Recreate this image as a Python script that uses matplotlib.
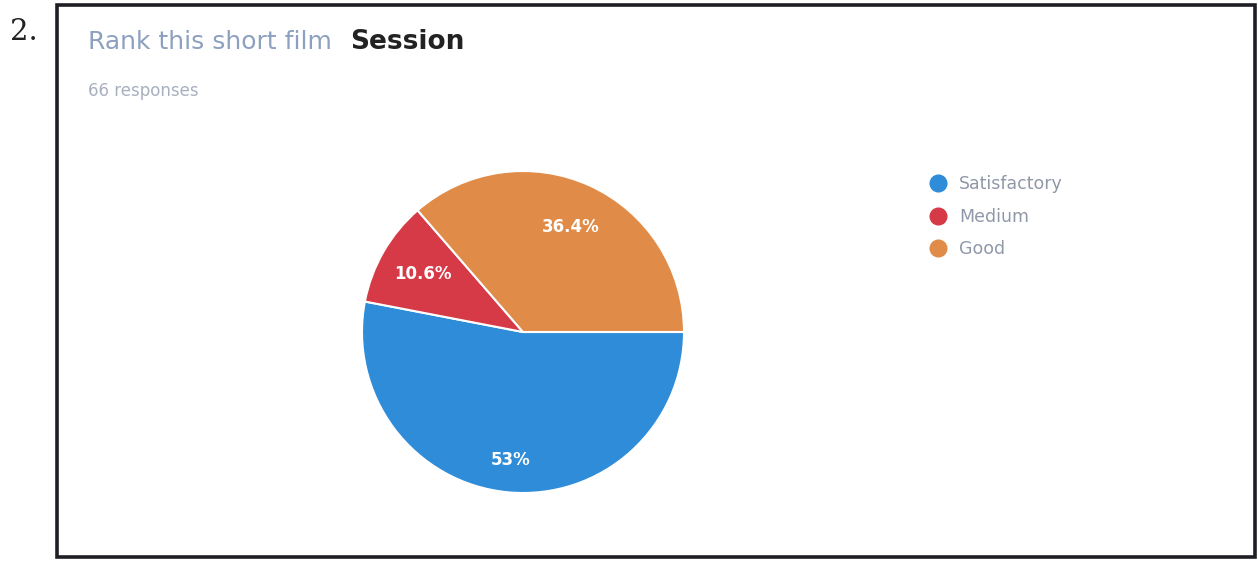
import matplotlib
matplotlib.use("Agg")
import matplotlib.pyplot as plt
from matplotlib.patches import Rectangle
from matplotlib.lines import Line2D

# survey answers (66 responses)
labels = ["Satisfactory", "Medium", "Good"]
counts = [35, 7, 24]
colors = ["#2f8cd8", "#d63a46", "#e08c48"]
title_plain = "Rank this short film "
title_bold = "Session"
subtitle = "66 responses"

W, H = 1258, 563
fig = plt.figure(figsize=(W / 100, H / 100), dpi=100)
fig.patch.set_facecolor("white")

# frame around the form card
fig.patches.append(Rectangle((57 / W, 1 - 557 / H), (1255 - 57) / W, (557 - 5) / H,
                             transform=fig.transFigure, fill=False, edgecolor="#1e1e24",
                             linewidth=2.6))
fig.text(10 / W, 1 - 40 / H, "2.", fontsize=21, fontfamily="DejaVu Serif",
         color="#222222", va="baseline")

fig.text(88 / W, 1 - 49 / H, title_plain, fontsize=18, color="#8da0bf", va="baseline")
fig.text(350 / W, 1 - 49 / H, title_bold, fontsize=19, fontweight="bold",
         color="#222222", va="baseline")
fig.text(88 / W, 1 - 96 / H, subtitle, fontsize=12, color="#a8b0c0", va="baseline")

# pie
cx, cy, r = 523, 332, 161
ax = fig.add_axes([(cx - r) / W, 1 - (cy + r) / H, 2 * r / W, 2 * r / H])
wedges, texts, autotexts = ax.pie(counts, colors=colors, startangle=0, counterclock=False,
                                  autopct=lambda p: f"{p:.1f}%".replace(".0%", "%"),
                                  pctdistance=0.72,
                                  wedgeprops=dict(edgecolor="white", linewidth=1.5),
                                  textprops=dict(color="white", fontsize=12,
                                                 fontweight="bold"))
autotexts[0].set_position((autotexts[0].get_position()[0] * 0.8 / 0.72,
                           autotexts[0].get_position()[1] * 0.8 / 0.72))
ax.set_xlim(-1.0, 1.0)
ax.set_ylim(-1.0, 1.0)
ax.set_aspect("equal")
ax.axis("off")

handles = [Line2D([], [], marker="o", linestyle="none", markersize=12,
                  markerfacecolor=c, markeredgecolor=c) for c in colors]
fig.legend(handles, labels, loc="upper left", bbox_to_anchor=(922 / W, 1 - 168 / H),
           frameon=False, fontsize=12.5, labelcolor="#9098a8", handletextpad=0.75,
           labelspacing=0.85, handlelength=1.0, borderaxespad=0)

fig.savefig("out.png", dpi=100)
